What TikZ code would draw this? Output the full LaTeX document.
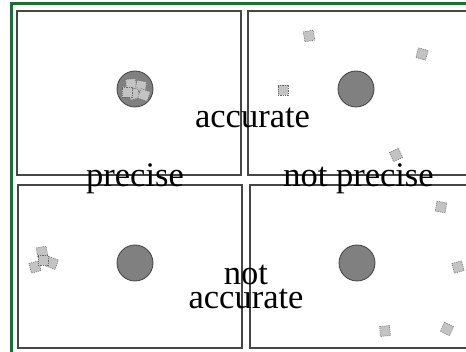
\documentclass[tikz,border=0pt]{standalone}
\usepackage{fontspec}
\setmainfont{Liberation Serif}
\definecolor{frame}{RGB}{27,110,55}
\definecolor{paneledge}{RGB}{70,70,70}
\definecolor{target}{RGB}{128,128,128}
\definecolor{hitfill}{RGB}{195,195,195}
\tikzset{
  panel/.style={draw=paneledge, line width=1.3pt},
  bull/.style={draw=black!75, fill=target, line width=0.8pt},
  lbl/.style={inner sep=0pt, anchor=base, font=\fontsize{34.5}{24}\selectfont, align=center},
  hit/.pic={\draw[fill=hitfill, draw=black!60, line width=0.5pt, dash pattern=on 1.2pt off 1pt]
    (-5,-5) .. controls (0,-4.2) .. (5,-5) .. controls (4.2,0) .. (5,5)
    .. controls (0,4.2) .. (-5,5) .. controls (-4.2,0) .. (-5,-5) -- cycle;}
}
\begin{document}
\begin{tikzpicture}[x=1pt,y=-1pt]
\useasboundingbox (0,0) rectangle (466,352);
\begin{scope}
\clip (0,0) rectangle (466,352);
\fill[white] (0,0) rectangle (466,352);
\draw[frame, line width=3pt] (11.5,4) rectangle (490,370);
% panels
\draw[panel] (17,11) rectangle (241,175);
\draw[panel] (248,11) rectangle (490,175);
\draw[panel] (18,185) rectangle (242,348);
\draw[panel] (250,185) rectangle (490,348);
% targets
\draw[bull] (135,89) circle (18);
\draw[bull] (356,89) circle (18);
\draw[bull] (135,263) circle (18);
\draw[bull] (357,263) circle (18);
% hits: accurate & precise
\pic[rotate=5] at (131,84) {hit};
\pic[rotate=-10] at (141,86) {hit};
\pic[rotate=15] at (134,94) {hit};
\pic[rotate=0] at (127,92) {hit};
\pic[rotate=-20] at (144,95) {hit};
% hits: accurate, not precise
\pic[rotate=10] at (309,36) {hit};
\pic[rotate=-15] at (422,54) {hit};
\pic[rotate=0] at (283,90) {hit};
\pic[rotate=25] at (396,155) {hit};
% hits: precise, not accurate
\pic[rotate=10] at (42,252) {hit};
\pic[rotate=-20] at (52,263) {hit};
\pic[rotate=15] at (35,267) {hit};
\pic[rotate=0] at (43,260) {hit};
% hits: neither
\pic[rotate=-10] at (441,207) {hit};
\pic[rotate=15] at (458,267) {hit};
\pic[rotate=5] at (385,331) {hit};
\pic[rotate=-25] at (447,329) {hit};
% labels
\node[lbl] (acc) at (252.5,128) {accurate};
\node[lbl] (pre) at (135,187) {precise};
\node[lbl] (npre) at (358.5,187) {not precise};
\node[lbl] (nacc) at (246,309) {not\\accurate};
\end{scope}
\end{tikzpicture}
\end{document}
